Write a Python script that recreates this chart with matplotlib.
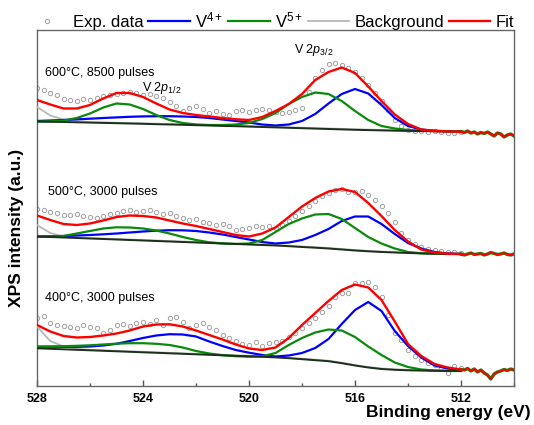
import numpy as np
import matplotlib
matplotlib.use("Agg")
import matplotlib.pyplot as plt
from matplotlib.lines import Line2D
from matplotlib.ticker import MultipleLocator

plt.rcParams['font.family'] = ['Liberation Sans', 'DejaVu Sans']
plt.rcParams['mathtext.fontset'] = 'custom'
plt.rcParams['mathtext.rm'] = 'Liberation Sans'
plt.rcParams['mathtext.it'] = 'Liberation Sans:italic'
plt.rcParams['mathtext.bf'] = 'Liberation Sans:bold'

# ---------------- data (binding energy in eV, intensity in a.u.) ----------------
energy_fit = np.arange(528.0, 511.9, -0.5)      # 33 points, fitted curves
energy_exp = np.arange(528.0, 511.9, -0.25)     # 65 points, measured data
energy_tail = np.arange(512.0, 509.99, -0.125)  # 17 points, tail beyond fit region

# 600 C, 8500 pulses
exp_600 = [312, 310, 307.3, 305, 301, 300, 299, 301, 300, 302, 304, 305, 306.5, 307, 308, 307,
           305, 306, 304, 302, 298, 294, 289, 292, 294, 291, 287, 289, 286, 285, 289, 290,
           288, 290, 291, 290, 288, 287, 288, 290, 292, 308, 322, 330, 336, 337, 335, 332,
           328, 322, 315, 307, 299, 290, 280, 274, 270, 269, 269, 268.5, 269, 268, 267, 267, 268]
v4_600 = [279, 279.5, 280, 280.7, 281.3, 282, 282.6, 283.2, 283.6, 283.8, 283.8, 283.5, 283, 282,
          280.5, 279, 277.5, 275.5, 274.5, 275.5, 279, 286, 296.5, 306, 311, 306.5, 295, 282,
          274, 270.5, 269.3, 268.7, 268.5]
v5_600 = [278.5, 278.7, 279.5, 282, 286.5, 292.5, 296.5, 295.5, 291, 285, 280, 277, 275.5, 275,
          275, 275.5, 277, 281, 287, 296, 303, 307.5, 306, 299, 289, 280, 274, 271.5, 270,
          269.3, 269, 268.7, 268.5]
bg_600 = [293, 284.5, 280.5, 279, 277.9, 277.6, 277.3, 277.0, 276.7, 276.3, 276.0, 275.7, 275.3,
          275.0, 274.6, 274.3, 273.9, 273.5, 273.1, 272.7, 272.3, 271.9, 271.5, 271.1, 270.7,
          270.4, 270.1, 269.8, 269.6, 269.4, 269.2, 269.1, 269.0]
base_600 = [278.5, 278.2, 278.0, 277.7, 277.4, 277.1, 276.8, 276.5, 276.2, 275.8, 275.5, 275.2,
            274.8, 274.5, 274.1, 273.8, 273.4, 273.0, 272.6, 272.2, 271.8, 271.4, 271.0, 270.6,
            270.2, 269.9, 269.6, 269.3, 269.1, 268.9, 268.7, 268.6, 268.5]
fit_600 = [300, 295.5, 291.5, 291.5, 295, 301.5, 307, 307, 303, 296.5, 290.5, 287, 285, 283.5,
           282, 280.7, 280, 283, 289, 296, 306, 320, 328, 332.5, 327, 313.5, 299, 285.5, 276,
           270.5, 269, 268.5, 268.3]
tail_600 = [268.3, 267.5, 269, 267, 268, 266, 267.5, 266.5, 268, 266, 264, 267, 266, 263, 265,
            266, 264]

# 500 C, 3000 pulses
exp_500 = [191.5, 190, 188, 187, 185.5, 185, 186, 184, 183, 182, 184, 186, 187, 189, 190, 188,
           189, 190, 188, 186, 187, 184, 182, 180, 181, 178, 177, 175, 176, 174, 170, 171,
           172, 174, 173, 174, 172, 175, 179, 184, 189, 194, 199, 204, 207, 210, 211, 208,
           208, 209, 205, 200, 194, 187, 178, 167, 160, 156, 153, 151, 150, 149, 148, 148, 147]
v4_500 = [163.5, 163.7, 164, 164.5, 165, 165.7, 166.5, 167.5, 168.5, 169.3, 169.8, 169.7, 169,
          167.5, 165.5, 163, 160.5, 158, 156.5, 157.5, 160, 165, 171, 179, 183.5, 183.5, 176,
          166, 157, 151.5, 148, 146.5, 146]
v5_500 = [163.5, 163.5, 164, 166.5, 169, 171.5, 172.7, 172.5, 171.5, 169.5, 166.5, 163, 160,
          157.7, 156.5, 156, 156.5, 160, 168, 176, 181.5, 185.5, 186, 181, 172, 163, 156.5,
          151.5, 148, 146.7, 146.3, 146, 146]
bg_500 = [175, 167, 163.7, 162.6, 162, 161.5, 161, 160.5, 160, 159.5, 159, 158.5, 158, 157.5,
          157, 156.5, 156, 155.5, 155, 154.3, 153.5, 152.8, 152, 151, 150, 149.2, 148.5, 148,
          147.5, 147.1, 146.8, 146.6, 146.5]
base_500 = [163.5, 163, 162.5, 162, 161.5, 161, 160.5, 160, 159.5, 159, 158.5, 158, 157.5, 157,
            156.5, 156, 155.5, 155, 154.5, 153.8, 153, 152.3, 151.5, 150.5, 149.5, 148.7, 148,
            147.5, 147, 146.6, 146.3, 146.1, 146]
fit_500 = [184.5, 180, 176, 175, 176.5, 179.5, 183, 184.5, 184, 182.5, 179.5, 176.5, 174, 171,
           168, 165, 163.5, 166.5, 172.5, 183, 193.5, 202, 208.5, 211, 208, 197, 184, 170,
           158.5, 150.5, 147.5, 146.3, 146]
tail_500 = [146, 145, 146, 147, 145.5, 146, 146.5, 145, 146, 147.5, 146.5, 145.5, 146, 147,
            145.5, 145, 146]

# 400 C, 3000 pulses
exp_400 = [82, 84, 77, 75, 74, 73, 72, 75, 73, 72, 67, 70, 75, 76, 74, 77, 78, 76, 80, 75, 82,
           83, 78, 72, 75, 77, 73, 70, 65, 62, 59, 56, 55, 58, 54, 57, 58, 59, 63, 67, 72, 77,
           82, 88, 94, 103, 107, 107, 117, 117, 118, 113, 103, 85, 67, 60, 50, 44, 40, 37, 35,
           32, 27, 34, 32]
v4_400 = [53.3, 53.3, 53.2, 53.2, 53.5, 54.5, 56.2, 59, 62, 64.5, 65.8, 65.5, 63.5, 58.5, 54,
          50, 47.3, 45, 43.5, 44.5, 47, 52, 61, 76, 90, 98, 89, 69, 54, 42.5, 34.5, 31.5, 29.5]
v5_400 = [53.3, 53.5, 53.8, 54.2, 54.7, 55.5, 56.3, 56.8, 56.8, 56.2, 55, 52.5, 49, 46.5, 44.8,
          43.8, 43.3, 43.7, 47, 55, 62, 67.5, 70.5, 69.5, 63, 53.5, 45, 37.5, 33, 30.5, 29.5,
          29, 29]
bg_400 = [73.5, 59, 53.5, 51.2, 50.2, 49.7, 49.2, 48.7, 48.2, 47.7, 47.2, 46.7, 46.2, 45.7,
          45.2, 44.7, 44.2, 43.7, 43.1, 42.3, 41.3, 40.3, 39.3, 37.3, 35, 33, 31.5, 30.7, 30.2,
          29.9, 29.7, 29.6, 29.5]
base_400 = [51.7, 51.2, 50.7, 50.2, 49.7, 49.2, 48.7, 48.2, 47.7, 47.2, 46.7, 46.2, 45.7, 45.2,
            44.7, 44.2, 43.7, 43.2, 42.6, 41.8, 40.8, 39.8, 38.8, 36.8, 34.5, 32.5, 31, 30.2,
            29.7, 29.4, 29.2, 29.1, 29]
fit_400 = [75, 68.5, 64, 62.5, 63, 64.5, 66.5, 69.5, 73.5, 75.5, 75.7, 73.5, 69.5, 65, 60.5,
           55.5, 51.5, 50, 52.5, 62, 75, 87, 99, 110, 115.5, 112.5, 100, 78.5, 56, 44, 36,
           32.5, 30.5]
tail_400 = [30.5, 30, 31.5, 29, 31, 28, 30, 27, 25, 21, 26, 28, 29, 30.5, 29.5, 31, 30]

sample_labels = ["600\u00b0C, 8500 pulses", "500\u00b0C, 3000 pulses", "400\u00b0C, 3000 pulses"]
legend_labels = ["Exp. data", "V$^{4+}$", "V$^{5+}$", "Background", "Fit"]
xtick_values = [528, 524, 520, 516, 512]

# ---------------- styles ----------------
c_v4 = '#0000ff'
c_v5 = '#0a8a0a'
c_bg = '#b8b8b8'
c_fit = '#ff0000'
c_base = '#1b2f1b'
c_exp = '#a0a0a0'

fig = plt.figure(figsize=(5.34, 4.25), dpi=100)
ax = fig.add_axes([37 / 534, 1 - 386 / 425, (514 - 37) / 534, (386 - 30) / 425])

panels = [
    (exp_600, v4_600, v5_600, bg_600, base_600, fit_600, tail_600),
    (exp_500, v4_500, v5_500, bg_500, base_500, fit_500, tail_500),
    (exp_400, v4_400, v5_400, bg_400, base_400, fit_400, tail_400),
]

for exp, v4, v5, bg, base, fit, tail in panels:
    ax.plot(energy_exp, exp, linestyle='none', marker='o', markersize=3.1,
            markerfacecolor='white', markeredgecolor=c_exp, markeredgewidth=0.7, zorder=2)
    ax.plot(energy_fit, bg, color=c_bg, lw=1.3, zorder=3)
    ax.plot(energy_fit, v4, color=c_v4, lw=1.6, zorder=4)
    ax.plot(energy_fit, v5, color=c_v5, lw=1.6, zorder=5)
    ax.plot(energy_fit, base, color=c_base, lw=1.4, zorder=6)
    ax.plot(energy_fit, fit, color=c_fit, lw=1.7, zorder=7)
    ax.plot(energy_tail, tail, color=c_v5, lw=2.4, zorder=6)
    ax.plot(energy_tail, tail, color=c_fit, lw=1.4, zorder=7)

ax.set_xlim(528, 510)
ax.set_ylim(14, 370)
ax.xaxis.set_major_locator(MultipleLocator(4))
ax.xaxis.set_minor_locator(MultipleLocator(2))
ax.set_xticks(xtick_values)
ax.set_xticklabels([str(v) for v in xtick_values], fontweight='bold', fontsize=9)
ax.tick_params(axis='x', which='major', direction='in', length=4, width=1, color='#555555', pad=5)
ax.tick_params(axis='x', which='minor', direction='in', length=2.5, width=1, color='#555555')
ax.set_yticks([])
for s in ax.spines.values():
    s.set_color('#666666')
    s.set_linewidth(1.0)

# annotations
ax.text(527.7, 327, sample_labels[0], fontsize=9, va='center', ha='left')
ax.text(527.6, 208, sample_labels[1], fontsize=9, va='center', ha='left')
ax.text(527.7, 102, sample_labels[2], fontsize=9, va='center', ha='left')
ax.text(524.05, 312, "V 2$p_{1/2}$", fontsize=9, va='center', ha='left')
ax.text(518.3, 350, "V 2$p_{3/2}$", fontsize=9, va='center', ha='left')

fig.text(17 / 534, 1 - 228 / 425, "XPS intensity (a.u.)", rotation=90, fontsize=12.5,
         fontweight='bold', ha='center', va='center')
fig.text(531 / 534, 1 - 413 / 425, "Binding energy (eV)", fontsize=12.5, fontweight='bold',
         ha='right', va='center')

handles = [
    Line2D([], [], linestyle='none', marker='o', markersize=3.1, markerfacecolor='white',
           markeredgecolor=c_exp, markeredgewidth=0.7),
    Line2D([], [], color=c_v4, lw=1.6),
    Line2D([], [], color=c_v5, lw=1.6),
    Line2D([], [], color=c_bg, lw=1.3),
    Line2D([], [], color=c_fit, lw=1.7),
]
fig.legend(handles, legend_labels, loc='center', bbox_to_anchor=(270 / 534, 1 - 20 / 425),
           ncol=5, frameon=False, fontsize=12, handlelength=2.5, handletextpad=0.3,
           columnspacing=0.3, borderpad=0, borderaxespad=0)

fig.savefig('out.png', dpi=100)
